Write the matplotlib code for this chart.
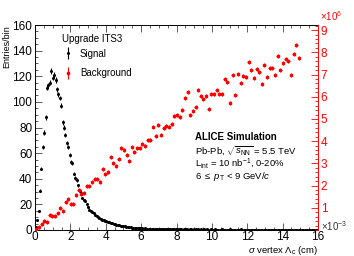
import numpy as np
import matplotlib
matplotlib.use('Agg')
import matplotlib.pyplot as plt
from matplotlib.ticker import MultipleLocator

plt.rcParams['font.family'] = ['Liberation Sans', 'DejaVu Sans']
plt.rcParams['mathtext.fontset'] = 'custom'
plt.rcParams['mathtext.rm'] = 'Liberation Sans'
plt.rcParams['mathtext.it'] = 'Liberation Sans:italic'
plt.rcParams['mathtext.bf'] = 'Liberation Sans:bold'

# signal: 200 bins of 0.08 cm from 0 to 16
sig_width = 0.08
signal = [
    2, 7.5, 15, 30.5, 48, 65, 76, 88, 111, 113, 115, 124, 119, 121, 117, 110,
    106, 103, 97, 84, 80, 74, 68, 65, 58.5, 53, 52, 44, 40.5, 39, 35, 30.5,
    29, 25, 23.5, 23, 20, 18, 16, 15, 14, 13, 12, 11, 10, 9.5, 8.5, 8,
    7.5, 7, 6.8, 6.5, 6.2, 5.5, 5.3, 5, 4.6, 4.2, 4, 3.6, 3.3, 3.1,
    3.0, 2.8, 2.6, 2.4, 2.5, 2.1, 1.8, 1.9, 1.6, 1.5,
    1.4, 1.6, 1.2, 1.3, 1.1, 1.2, 0.9, 1.0, 1.1, 0.8,
    0.9, 0.7, 0.8, 1.0, 0.6, 0.7, 0.8, 0.5, 0.7, 0.6,
    0.5, 0.8, 0.6, 0.4, 0.6, 0.5, 0.7, 0.4, 0.5, 0.6,
    0.4, 0.5, 0.3, 0.6, 0.4, 0.5, 0.3, 0.4, 0.6, 0.3,
    0.4, 0.5, 0.3, 0.4, 0.2, 0.5, 0.3, 0.4, 0.3, 0.5,
    0.2, 0.3, 0.4, 0.2, 0.3, 0.5, 0.2, 0.3, 0.3, 0.2,
    0.4, 0.2, 0.3, 0.2, 0.3, 0.4, 0.2, 0.2, 0.3, 0.2,
    0.3, 0.2, 0.2, 0.4, 0.2, 0.3, 0.2, 0.1, 0.3, 0.2,
    0.2, 0.3, 0.1, 0.2, 0.2, 0.3, 0.1, 0.2, 0.2, 0.1,
    0.3, 0.2, 0.1, 0.2, 0.1, 0.2, 0.3, 0.1, 0.2, 0.1,
    0.2, 0.1, 0.2, 0.1, 0.1, 0.2, 0.1, 0.2, 0.1, 0.1,
    0.2, 0.1, 0.1, 0.2, 0.1, 0.1, 0.1, 0.2, 0.1, 0.1,
    0.1, 0.1, 0.2, 0.1, 0.1, 0.1, 0.1, 0.1,
]

# background (x10^6): 100 bins of 0.15 cm from 0 to 15
bkg_width = 0.15
background = [
    0.03, 0.12, 0.27, 0.42, 0.36, 0.68, 0.61, 0.63, 0.75, 0.98,
    0.87, 1.24, 1.41, 1.18, 1.18, 1.56, 1.82, 1.62, 1.67, 2.00,
    2.00, 2.18, 2.31, 2.31, 2.18, 2.76, 2.54, 2.60, 3.29, 3.00,
    2.89, 3.21, 3.69, 3.61, 3.39, 3.10, 3.73, 3.50, 3.71, 3.71,
    3.85, 3.79, 4.04, 4.04, 4.62, 4.24, 4.73, 4.27, 4.59, 4.67,
    4.62, 4.79, 5.15, 5.19, 5.10, 5.39, 5.96, 6.23, 5.19, 5.37,
    5.55, 6.29, 6.05, 5.88, 6.03, 5.43, 6.14, 6.14, 6.32, 6.14,
    6.14, 6.80, 6.68, 5.74, 6.97, 6.07, 7.03, 6.64, 6.93, 6.89,
    7.55, 7.22, 6.86, 7.25, 7.10, 6.58, 7.41, 6.89, 7.30, 7.30,
    7.00, 7.82, 7.22, 7.52, 7.71, 7.63, 7.00, 7.94, 8.31, 7.75,
]

signal = np.array(signal)
background = np.array(background)
x_sig = (np.arange(len(signal)) + 0.5) * sig_width
x_bkg = (np.arange(len(background)) + 0.5) * bkg_width
sig_err = 0.16 * np.sqrt(signal) + 0.3
bkg_err = np.full(len(background), 0.09)

red = '#ff0000'

fig = plt.figure(figsize=(3.54, 2.56), dpi=100)
ax = fig.add_axes([35 / 354, 26 / 256, 283 / 354, 205 / 256])

ax.errorbar(x_sig, signal, yerr=sig_err, xerr=sig_width / 2, fmt='o', ms=1.2,
            color='black', elinewidth=0.8, capsize=0, zorder=3)
ax.set_xlim(0, 16)
ax.set_ylim(0, 160)
ax.xaxis.set_major_locator(MultipleLocator(2))
ax.xaxis.set_minor_locator(MultipleLocator(0.5))
ax.yaxis.set_major_locator(MultipleLocator(20))
ax.yaxis.set_minor_locator(MultipleLocator(5))
ax.tick_params(which='both', direction='in', top=True, right=False,
               labelsize=8.5, width=0.6, color='#444444', pad=2)
ax.tick_params(axis='x', pad=1)
ax.tick_params(which='major', length=5)
ax.tick_params(which='minor', length=2.5)
for s in ['left', 'bottom', 'top']:
    ax.spines[s].set_linewidth(0.7)
ax.spines['right'].set_visible(False)

ax2 = ax.twinx()
ax2.errorbar(x_bkg, background, yerr=bkg_err, xerr=bkg_width / 2, fmt='s', ms=1.6,
             color=red, elinewidth=0.7, capsize=0, zorder=3)
ax2.set_ylim(0, 9.23)
ax2.yaxis.set_major_locator(MultipleLocator(1))
ax2.yaxis.set_minor_locator(MultipleLocator(0.2))
ax2.tick_params(which='both', direction='in', colors=red, labelsize=8.5,
                width=0.6, pad=2)
ax2.tick_params(which='major', length=5)
ax2.tick_params(which='minor', length=2.5)
ax2.set_yticks(np.arange(1, 10))
ax2.spines['right'].set_color(red)
ax2.spines['right'].set_linewidth(0.7)
for s in ['left', 'bottom', 'top']:
    ax2.spines[s].set_visible(False)

fig.text(320 / 354, 1 - 16 / 256, r'$\times$10$^{6}$', color=red, fontsize=7,
         ha='left', va='center')
fig.text(321 / 354, 1 - 226 / 256, r'$\times$10$^{-3}$', color='#333333',
         fontsize=7, ha='left', va='center')

ax.set_ylabel('Entries/bin', fontsize=6.5, loc='top', labelpad=1)
ax.set_xlabel(r'$\sigma$ vertex $\Lambda_{\rm c}$ (cm)', fontsize=6.8, ha='right',
              va='top')
ax.xaxis.set_label_coords(1.0, -0.07)

# legend
fig.text(62 / 354, 1 - 39 / 256, 'Upgrade ITS3', fontsize=7, va='center')
fig.text(80 / 354, 1 - 54 / 256, 'Signal', fontsize=7, va='center')
fig.text(80 / 354, 1 - 73 / 256, 'Background', fontsize=7, va='center')
ax.errorbar([1.87], [138], yerr=[4.5], fmt='o', ms=1.2, color='black',
            elinewidth=0.8, capsize=0, clip_on=False)
ax2.errorbar([1.87], [7.07], yerr=[0.25], fmt='s', ms=1.6, color=red,
             elinewidth=0.8, capsize=0, clip_on=False)

# ALICE text
tx = 195 / 354
fig.text(tx, 1 - 137 / 256, 'ALICE Simulation', fontsize=7, fontweight='bold',
         va='center')
fig.text(tx, 1 - 151 / 256, r'Pb-Pb, $\sqrt{s_{\rm NN}}$ = 5.5 TeV', fontsize=6.8,
         va='center')
fig.text(tx, 1 - 164 / 256, r'L$_{\rm int}$ = 10 nb$^{-1}$, 0-20%', fontsize=6.8,
         va='center')
fig.text(tx, 1 - 176.5 / 256, r'6 $\leq$ $p_{\rm T}$ < 9 GeV/$c$', fontsize=6.8,
         va='center')

fig.savefig('out.png', dpi=100)
